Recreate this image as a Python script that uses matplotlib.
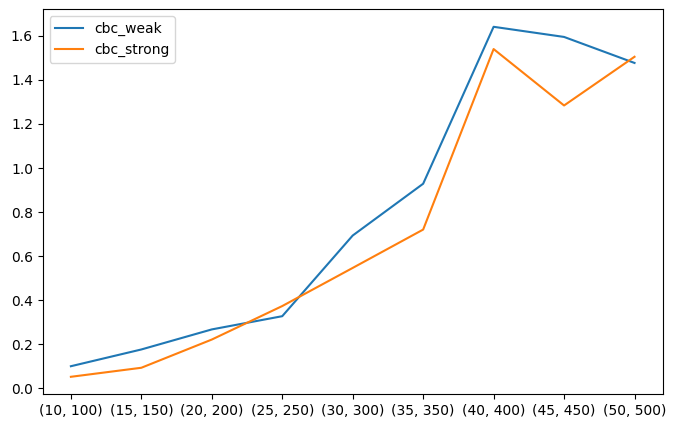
import matplotlib
matplotlib.use("Agg")
import matplotlib.pyplot as plt

categories = ["(10, 100)", "(15, 150)", "(20, 200)", "(25, 250)", "(30, 300)",
              "(35, 350)", "(40, 400)", "(45, 450)", "(50, 500)"]
cbc_weak = [0.101, 0.177, 0.268, 0.328, 0.694, 0.929, 1.641, 1.595, 1.477]
cbc_strong = [0.053, 0.094, 0.222, 0.374, 0.547, 0.721, 1.540, 1.284, 1.505]

fig = plt.figure(figsize=(6.75, 4.28), dpi=100)
ax = fig.add_axes([42.7 / 675, 1 - 394.3 / 428, (662.7 - 42.7) / 675, (394.3 - 9.3) / 428])
x = list(range(len(categories)))
ax.plot(x, cbc_weak, label="cbc_weak")
ax.plot(x, cbc_strong, label="cbc_strong")
ax.set_xticks(x)
ax.set_xticklabels(categories)
ax.legend(loc="upper left")
fig.savefig("out.png", dpi=100)
